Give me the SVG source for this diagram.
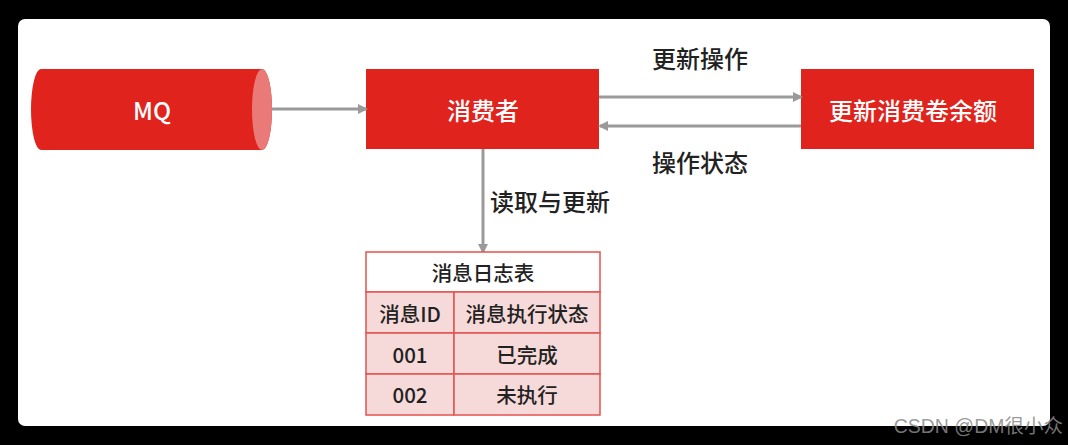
<svg xmlns="http://www.w3.org/2000/svg" width="1068" height="445" viewBox="0 0 1068 445">
<style>
.lbl{font-family:"Noto Sans CJK SC","Noto Sans",sans-serif;fill:#222;font-size:24px;font-weight:500;text-anchor:middle;dominant-baseline:central}
.wt{font-family:"Noto Sans CJK SC","Noto Sans",sans-serif;fill:#fff;font-size:24px;font-weight:500;text-anchor:middle;dominant-baseline:central}
.tt{font-family:"Noto Sans CJK SC","Noto Sans",sans-serif;fill:#222;font-size:20.5px;font-weight:500;text-anchor:middle;dominant-baseline:central}
.conn{stroke:#9a9a9a;stroke-width:3;fill:none}
.cell{fill:#f6d9d9;stroke:#e3534f;stroke-width:1.5}
</style>
<defs>
<marker id="ah" markerWidth="10" markerHeight="10" refX="8" refY="5" orient="auto" markerUnits="userSpaceOnUse">
<path d="M0,0 L10,5 L0,10 z" fill="#9a9a9a"/>
</marker>
</defs>
<rect x="0" y="0" width="1068" height="445" fill="#000"/>
<rect x="18" y="19" width="1032" height="407" rx="7" fill="#fff"/>
<g id="mq">
<path d="M41,69 L262,69 A10,40.5 0 0 1 262,150 L41,150 A10,40.5 0 0 1 41,69 z" fill="#e0231c"/>
<ellipse cx="262" cy="109.5" rx="10" ry="40.5" fill="#e97a78"/>
<text class="wt" x="152" y="109">MQ</text>
</g>
<g id="consumer">
<rect x="366" y="69" width="233" height="80" fill="#e0231c"/>
<text class="wt" x="483" y="109">消费者</text>
</g>
<g id="update">
<rect x="801" y="69" width="233" height="80" fill="#e0231c"/>
<text class="wt" x="913" y="109">更新消费卷余额</text>
</g>
<g id="connectors">
<line class="conn" x1="272" y1="109" x2="366" y2="109" marker-end="url(#ah)"/>
<line class="conn" x1="599" y1="97" x2="801" y2="97" marker-end="url(#ah)"/>
<line class="conn" x1="801" y1="126" x2="600" y2="126" marker-end="url(#ah)"/>
<line class="conn" x1="483" y1="149" x2="483" y2="252" marker-end="url(#ah)"/>
<text class="lbl" x="700" y="57">更新操作</text>
<text class="lbl" x="700" y="161">操作状态</text>
<text class="lbl" x="550" y="200">读取与更新</text>
</g>
<g id="log-table">
<rect x="366" y="252" width="234" height="40" fill="#fff" stroke="#e3534f" stroke-width="1.5"/>
<rect class="cell" x="366" y="292" width="88" height="41"/>
<rect class="cell" x="454" y="292" width="146" height="41"/>
<rect class="cell" x="366" y="333" width="88" height="41"/>
<rect class="cell" x="454" y="333" width="146" height="41"/>
<rect class="cell" x="366" y="374" width="88" height="41"/>
<rect class="cell" x="454" y="374" width="146" height="41"/>
<text class="tt" x="483" y="272">消息日志表</text>
<text class="tt" x="410" y="313">消息ID</text>
<text class="tt" x="527" y="313">消息执行状态</text>
<text class="tt" x="410" y="354">001</text>
<text class="tt" x="527" y="354">已完成</text>
<text class="tt" x="410" y="394">002</text>
<text class="tt" x="527" y="394">未执行</text>
</g>
<text x="1063" y="433" font-family="&quot;Liberation Sans&quot;,&quot;Noto Sans CJK SC&quot;,sans-serif" font-size="19.5" fill="#8a8a8a" fill-opacity="0.85" text-anchor="end">CSDN @DM很小众</text>
</svg>
